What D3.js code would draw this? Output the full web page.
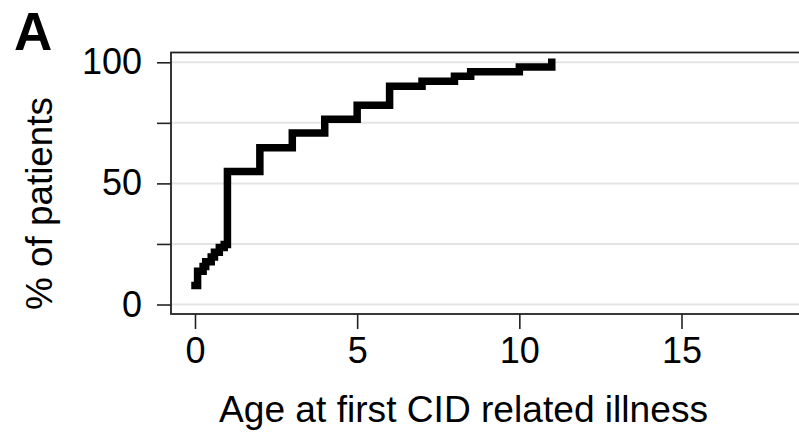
<!DOCTYPE html>
<head>
    <title>Age at first CID related illness</title>
    <meta charset="utf-8">
    <style>
        body { margin: 0; background: #fff; }
        svg { display: block; font-family: "Liberation Sans", Arial, sans-serif; }
        .tick text { font-size: 36px; fill: #000; }
        .tick line { stroke: #222; stroke-width: 1.6; }
    </style>
</head>

<body>
    <div id="chart"></div>

    <script src="https://d3js.org/d3.v7.min.js"></script>
    <script>
        // cumulative % of patients by age at first illness (step function)
        var ages = [0, 0.08, 0.25, 0.33, 0.5, 0.6, 0.75, 0.9, 1, 2, 3, 4, 5, 6, 7, 8, 8.5, 10, 11];
        var percents = [7.8, 13.7, 15.7, 17.6, 19.6, 21.6, 23.5, 24.8, 54.9, 64.7, 70.8, 76.5, 82.3, 90.1, 92.2, 94.2, 96.1, 98.1, 100];

        var xTicks = [0, 5, 10, 15];
        var yTicks = [0, 25, 50, 75, 100];
        var yLabels = [0, 50, 100];

        var width = 799, height = 432;
        var frame = {left: 171, top: 52.5, bottom: 314, right: 840};

        var x = d3.scaleLinear().domain([0, 15]).range([195, 681.5]);
        var y = d3.scaleLinear().domain([0, 100]).range([304.5, 62.3]);

        var svg = d3.select("#chart")
            .append("svg")
            .attr("width", width)
            .attr("height", height);

        // gridlines
        svg.append("g")
            .selectAll("line")
            .data(yTicks)
            .enter()
            .append("line")
            .attr("x1", frame.left)
            .attr("x2", frame.right)
            .attr("y1", d => y(d))
            .attr("y2", d => y(d))
            .attr("stroke", "#e4e4e4")
            .attr("stroke-width", 2);

        // plot frame (right side runs off the picture)
        svg.append("rect")
            .attr("x", frame.left)
            .attr("y", frame.top)
            .attr("width", frame.right - frame.left)
            .attr("height", frame.bottom - frame.top)
            .attr("fill", "none")
            .attr("stroke", "#222")
            .attr("stroke-width", 1.8);

        svg.append("g")
            .attr("transform", "translate(" + frame.left + ",0)")
            .call(d3.axisLeft(y)
                .tickValues(yTicks)
                .tickSize(14)
                .tickPadding(15)
                .tickFormat(d => yLabels.indexOf(d) >= 0 ? d : ""))
            .call(g => g.select(".domain").remove());

        svg.append("g")
            .attr("transform", "translate(0," + frame.bottom + ")")
            .call(d3.axisBottom(x)
                .tickValues(xTicks)
                .tickSize(15)
                .tickPadding(8))
            .call(g => g.select(".domain").remove());

        var line = d3.line()
            .x((d, i) => x(ages[i]))
            .y(d => y(d))
            .curve(d3.curveStepAfter);

        svg.append("path")
            .datum(percents)
            .attr("d", line)
            .attr("fill", "none")
            .attr("stroke", "#000")
            .attr("stroke-width", 7.5)
            .attr("stroke-linejoin", "miter")
            .attr("stroke-linecap", "square");

        svg.append("text")
            .attr("x", 463.5)
            .attr("y", 421.7)
            .attr("text-anchor", "middle")
            .attr("textLength", 489)
            .attr("lengthAdjust", "spacingAndGlyphs")
            .style("font-size", "36px")
            .text("Age at first CID related illness");

        svg.append("text")
            .attr("transform", "translate(51.5,203.5) rotate(-90)")
            .attr("text-anchor", "middle")
            .attr("textLength", 213)
            .attr("lengthAdjust", "spacingAndGlyphs")
            .style("font-size", "36px")
            .text("% of patients");

        svg.append("text")
            .attr("x", 14)
            .attr("y", 50)
            .style("font-size", "53px")
            .style("font-weight", "bold")
            .text("A");
    </script>
</body>
</html>
